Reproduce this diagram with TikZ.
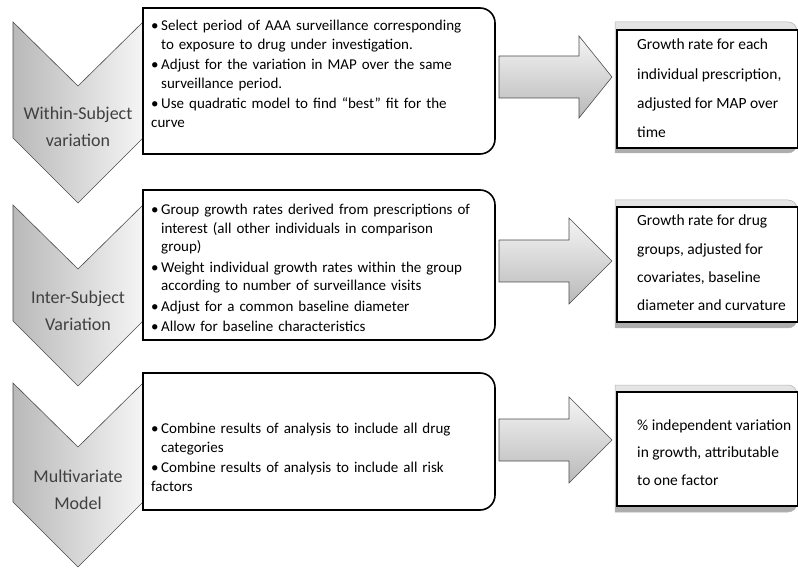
\documentclass[tikz,border=0pt]{standalone}
\usepackage{fontspec}
\setmainfont{Carlito}
\usetikzlibrary{positioning}
\newcommand{\bitem}{\par\hangindent=10pt\hangafter=1\noindent\makebox[10pt][l]{\textbullet}}

\begin{document}
\begin{tikzpicture}[x=1pt, y=-1pt,
	chev/.style = {draw=gray!60!black, line width=0.6pt, left color=gray!55, right color=gray!8},
	stage/.style = {text=black!75, align=center, font=\fontsize{18}{27}\selectfont},
	task/.style = {draw, line width=1.6pt, fill=white},
	blockarrow/.style = {draw=gray!60!black, line width=0.6pt, top color=gray!8, bottom color=gray!55},
	band/.style = {draw=gray!60, line width=0.5pt, top color=gray!20, bottom color=gray!65},
	result/.style = {draw, line width=1.6pt, fill=white},
	bullets/.style = {anchor=north west, inner sep=0pt, text width=340pt, align=left, font=\fontsize{15}{18.5}\selectfont\setlength{\parskip}{2pt}},
	outcome/.style = {anchor=north west, inner sep=0pt, align=left}]
			\useasboundingbox (0,0) rectangle (798,569);
			
			% stages on the left
			\draw[chev] (13,22) -- (78,86) -- (143,22) -- (143,138) -- (78,203) -- (13,138) -- cycle;
			\draw[chev] (13,205) -- (78,269) -- (143,205) -- (143,321) -- (78,386) -- (13,321) -- cycle;
			\draw[chev] (13,383) -- (78,447) -- (143,383) -- (143,502) -- (78,567) -- (13,502) -- cycle;
			\node[stage] (within) at (78,127) {Within-Subject\\variation};
			\node[stage] (inter) at (78,311) {Inter-Subject\\Variation};
			\node[stage] (multi) at (78,490) {Multivariate\\Model};
			
			% analysis steps
			\draw[task] (143,8) -- (480,8) arc[start angle=-90, end angle=0, radius=15] -- (495,139) arc[start angle=0, end angle=90, radius=15] -- (143,154) -- cycle;
			\draw[task] (143,190) -- (480,190) arc[start angle=-90, end angle=0, radius=15] -- (495,325) arc[start angle=0, end angle=90, radius=15] -- (143,340) -- cycle;
			\draw[task] (143,373) -- (480,373) arc[start angle=-90, end angle=0, radius=15] -- (495,495) arc[start angle=0, end angle=90, radius=15] -- (143,510) -- cycle;
			\node[bullets] (steps1) at (151,10) {%
				\bitem Select period of AAA surveillance corresponding\newline to exposure to drug under investigation.
				\bitem Adjust for the variation in MAP over the same\newline surveillance period.
				\bitem Use quadratic model to find “best” fit for the\newline curve};
			\node[bullets] (steps2) at (151,194) {%
				\bitem Group growth rates derived from prescriptions of\newline interest (all other individuals in comparison\newline group)
				\bitem Weight individual growth rates within the group\newline according to number of surveillance visits
				\bitem Adjust for a common baseline diameter
				\bitem Allow for baseline characteristics};
			\node[bullets] (steps3) at (151,413) {%
				\bitem Combine results of analysis to include all drug\newline categories
				\bitem Combine results of analysis to include all risk\newline factors};
			
			% block arrows
			\draw[blockarrow] (499,56) -- (579,56) -- (579,36) -- (612,77) -- (579,118) -- (579,98) -- (499,98) -- cycle;
			\draw[blockarrow] (499,240) -- (569,240) -- (569,218) -- (612,261) -- (569,304) -- (569,282) -- (499,282) -- cycle;
			\draw[blockarrow] (499,419) -- (569,419) -- (569,397) -- (612,440) -- (569,483) -- (569,461) -- (499,461) -- cycle;
			
			% results on the right
			\draw[band] (615,22) -- (788,22) arc[start angle=-90, end angle=0, radius=9] -- (797,144) arc[start angle=0, end angle=90, radius=9] -- (615,153) -- cycle;
			\draw[result] (617,30) rectangle (798,148);
			\draw[band] (615,200) -- (788,200) arc[start angle=-90, end angle=0, radius=9] -- (797,319) arc[start angle=0, end angle=90, radius=9] -- (615,328) -- cycle;
			\draw[result] (617,207) rectangle (798,322);
			\draw[band] (615,385) -- (788,385) arc[start angle=-90, end angle=0, radius=9] -- (797,503) arc[start angle=0, end angle=90, radius=9] -- (615,512) -- cycle;
			\draw[result] (617,392) rectangle (798,506);
			\node[outcome, font=\fontsize{15.5}{29.3}\selectfont] (rate1) at (637,39) {Growth rate for each\\individual prescription,\\adjusted for MAP over\\time};
			\node[outcome, font=\fontsize{15.5}{28.3}\selectfont] (rate2) at (637,215) {Growth rate for drug\\groups, adjusted for\\covariates, baseline\\diameter and curvature};
			\node[outcome, font=\fontsize{15.5}{27.5}\selectfont] (rate3) at (637,419.5) {\% independent variation\\in growth, attributable\\to one factor};
			
\end{tikzpicture}
\end{document}
